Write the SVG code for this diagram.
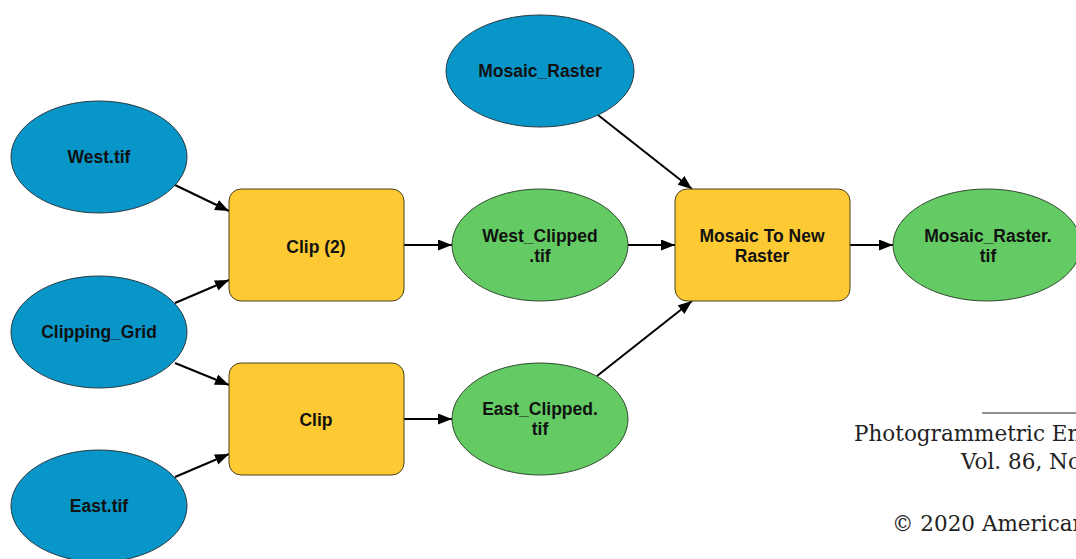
<svg xmlns="http://www.w3.org/2000/svg" width="1076" height="559" viewBox="0 0 1076 559">
<style>
.in{fill:#0896c9;stroke:#2a3a40;stroke-width:1}
.out{fill:#64cb64;stroke:#2f4a2f;stroke-width:1}
.tool{fill:#fdca33;stroke:#4a4020;stroke-width:1}
.lbl{font-family:"Liberation Sans",Arial,sans-serif;font-size:17.5px;font-weight:bold;fill:#111;text-anchor:middle}
.ft{font-family:"DejaVu Serif",serif;font-size:21.5px;fill:#222}
.con line{stroke:#000;stroke-width:2;marker-end:url(#ah)}
</style>
<defs>
<marker id="ah" markerUnits="userSpaceOnUse" markerWidth="15" markerHeight="12" refX="14" refY="5.5" orient="auto">
<path d="M0,0 L14,5.5 L0,11 Z" fill="#000"/>
</marker>
</defs>
<rect width="1076" height="559" fill="#fff"/>
<g id="connectors" class="con">
<line x1="175" y1="185" x2="229" y2="211"/>
<line x1="175" y1="303" x2="229" y2="280"/>
<line x1="175" y1="363" x2="229" y2="385"/>
<line x1="175" y1="477" x2="229" y2="454"/>
<line x1="404" y1="245" x2="452" y2="245"/>
<line x1="404" y1="419" x2="452" y2="419"/>
<line x1="628" y1="245" x2="675" y2="245"/>
<line x1="598" y1="115" x2="692" y2="189"/>
<line x1="597" y1="376" x2="692" y2="301"/>
<line x1="850" y1="245" x2="893" y2="245"/>
</g>
<g id="west_tif"><ellipse class="in" cx="99" cy="157" rx="88" ry="56"/><text class="lbl" x="99" y="163">West.tif</text></g>
<g id="clipping_grid"><ellipse class="in" cx="99" cy="332" rx="88" ry="56"/><text class="lbl" x="99" y="338">Clipping_Grid</text></g>
<g id="east_tif"><ellipse class="in" cx="99" cy="506" rx="88" ry="56"/><text class="lbl" x="99" y="512">East.tif</text></g>
<g id="mosaic_raster"><ellipse class="in" cx="540" cy="71" rx="94" ry="56"/><text class="lbl" x="540" y="77">Mosaic_Raster</text></g>
<g id="clip2"><rect class="tool" x="229" y="189" width="175" height="112" rx="12"/><text class="lbl" x="316" y="253">Clip (2)</text></g>
<g id="clip"><rect class="tool" x="229" y="363" width="175" height="112" rx="12"/><text class="lbl" x="316" y="426">Clip</text></g>
<g id="west_clipped"><ellipse class="out" cx="540" cy="245" rx="88" ry="56"/><text class="lbl" x="540" y="242">West_Clipped</text><text class="lbl" x="540" y="262">.tif</text></g>
<g id="east_clipped"><ellipse class="out" cx="540" cy="419" rx="88" ry="56"/><text class="lbl" x="540" y="415">East_Clipped.</text><text class="lbl" x="540" y="435">tif</text></g>
<g id="mosaic_to_new_raster"><rect class="tool" x="675" y="189" width="175" height="112" rx="12"/><text class="lbl" x="762" y="242">Mosaic To New</text><text class="lbl" x="762" y="262">Raster</text></g>
<g id="mosaic_raster_tif"><ellipse class="out" cx="987" cy="245" rx="94" ry="56"/><text class="lbl" x="988" y="242">Mosaic_Raster.</text><text class="lbl" x="988" y="262">tif</text></g>
<g id="footer">
<line x1="982" y1="413" x2="1076" y2="413" stroke="#222" stroke-width="1.2"/>
<text class="ft" x="854" y="441">Photogrammetric En</text>
<text class="ft" x="961" y="469">Vol. 86, No</text>
<text class="ft" x="892" y="531">© 2020 American</text>
</g>
</svg>
